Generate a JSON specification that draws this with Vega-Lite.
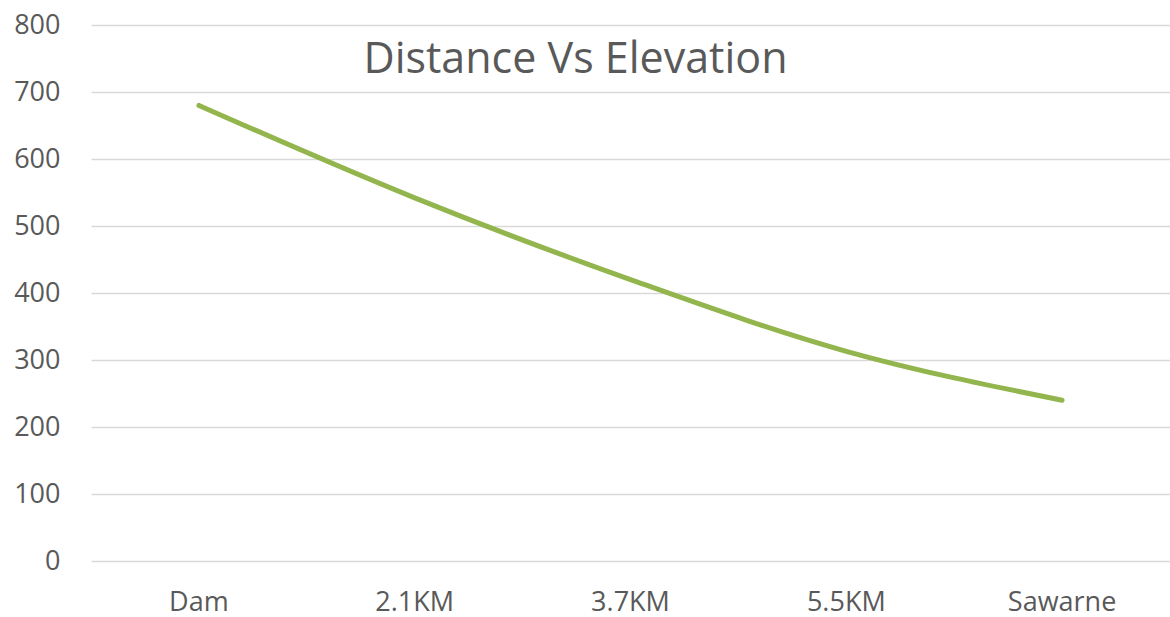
{
  "$schema": "https://vega.github.io/schema/vega-lite/v6.json",
  "autosize": {"type": "none"},
  "width": 1079,
  "height": 536,
  "padding": {"left": 91, "top": 25, "right": 0, "bottom": 56},
  "background": "white",
  "config": {"view": {"stroke": null}, "font": "Open Sans"},
  "title": {
    "text": "Distance Vs Elevation",
    "fontSize": 43,
    "font": "Open Sans",
    "fontWeight": "normal",
    "color": "#595959",
    "anchor": "middle",
    "frame": "group",
    "dx": -55,
    "dy": 118,
    "baseline": "bottom"
  },
  "data": {
    "values": [
      {"point": "Dam", "elevation": 680},
      {"point": "2.1KM", "elevation": 542},
      {"point": "3.7KM", "elevation": 420},
      {"point": "5.5KM", "elevation": 313},
      {"point": "Sawarne", "elevation": 240}
    ]
  },
  "mark": {"type": "line", "color": "#93b54e", "strokeWidth": 5, "interpolate": "monotone", "strokeCap": "round"},
  "encoding": {
    "x": {
      "field": "point",
      "type": "nominal",
      "sort": null,
      "scale": {"type": "band", "paddingInner": 0, "paddingOuter": 0},
      "axis": {
        "title": null,
        "labelAngle": 0,
        "labelFontSize": 27,
        "labelColor": "#595959",
        "labelPadding": 28,
        "ticks": false,
        "domain": false,
        "grid": false
      }
    },
    "y": {
      "field": "elevation",
      "type": "quantitative",
      "scale": {"domain": [0, 800], "nice": false},
      "axis": {
        "title": null,
        "values": [0, 100, 200, 300, 400, 500, 600, 700, 800],
        "labelFontSize": 27,
        "labelColor": "#595959",
        "labelPadding": 31,
        "ticks": false,
        "domain": false,
        "grid": true,
        "gridColor": "#d9d9d9",
        "gridWidth": 1.5
      }
    }
  }
}
